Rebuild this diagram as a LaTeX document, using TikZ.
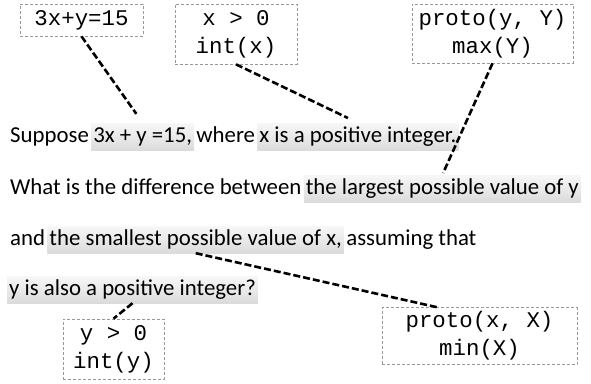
\documentclass[tikz,border=0pt]{standalone}
\usepackage{fontspec}
\setmainfont{Carlito}
\setmonofont{Liberation Mono}
\usetikzlibrary{positioning}

\begin{document}
\begin{tikzpicture}[x=1pt, y=-1pt,
    cbox/.style={rectangle, draw=gray!80, line width=0.7pt, dash pattern=on 3pt off 2pt, align=center, inner sep=0pt, font=\fontsize{22.4}{28}\selectfont\ttfamily},
    word/.style={inner xsep=2pt, inner ysep=3pt, text height=16pt, text depth=5pt, font=\fontsize{22.8}{26}\selectfont},
    hl/.style={word, top color=gray!6, bottom color=gray!28},
    link/.style={line width=2.6pt, dash pattern=on 7pt off 3pt}]
    \useasboundingbox (0,0) rectangle (591,383);
    % constraint boxes
    \node [cbox, minimum width=123pt, minimum height=32pt] (eqn) at (81.5,20) {3x+y=15};
    \node [cbox, minimum width=122pt, minimum height=60pt] (xpos) at (236,34) {x > 0\\int(x)};
    \node [cbox, minimum width=161pt, minimum height=59pt] (ymax) at (492.5,33.5) {proto(y, Y)\\max(Y)};
    \node [cbox, minimum width=101pt, minimum height=60pt] (ypos) at (113.5,349) {y > 0\\int(y)};
    \node [cbox, minimum width=195pt, minimum height=57pt] (xmin) at (479.5,336) {proto(x, X)\\min(X)};
    % the question, line by line
    \node [word, anchor=base west] (suppose) at (8,142) {Suppose};
    \node [hl, base right=0pt of suppose] (heqn) {3x + y =15,};
    \node [word, base right=0pt of heqn] (where) {where};
    \node [hl, base right=0pt of where] (hxint) {x is a positive integer.};
    \node [word, anchor=base west] (what) at (8,194) {What is the difference between};
    \node [hl, base right=0pt of what] (hlarge) {the largest possible value of y};
    \node [word, anchor=base west] (andw) at (8,245) {and};
    \node [hl, base right=0pt of andw] (hsmall) {the smallest possible value of x,};
    \node [word, base right=0pt of hsmall] (assume) {assuming that};
    \node [hl, anchor=base west] (hyint) at (7,295) {y is also a positive integer?};
    % links
    \draw [link, shorten >=11pt] (eqn.south) -- (heqn.north);
    \draw [link, shorten >=11pt] (xpos.south) -- (hxint.north);
    \draw [link, shorten >=2pt] (ymax.south) -- (hlarge.north);
    \draw [link] (hsmall.south) -- (xmin.146);
    \draw [link] (hyint.south) -- (ypos.north);
\end{tikzpicture}
\end{document}
